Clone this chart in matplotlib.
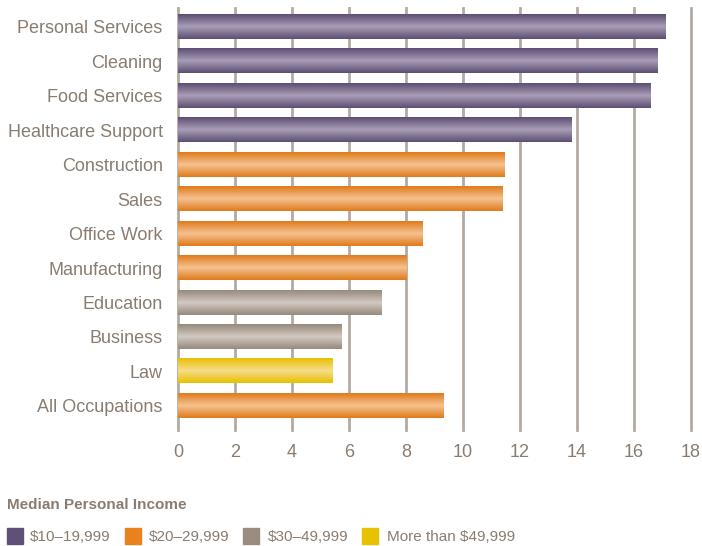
import numpy as np
import matplotlib.pyplot as plt
from matplotlib.colors import LinearSegmentedColormap
from matplotlib.patches import Rectangle

# data
occupations = ['Personal Services', 'Cleaning', 'Food Services', 'Healthcare Support',
               'Construction', 'Sales', 'Office Work', 'Manufacturing',
               'Education', 'Business', 'Law', 'All Occupations']
values = [17.09, 16.81, 16.57, 13.81, 11.44, 11.37, 8.58, 8.02, 7.15, 5.72, 5.41, 9.31]
groups = [0, 0, 0, 0, 1, 1, 1, 1, 2, 2, 3, 1]
legend_labels = ['$10\u201319,999', '$20\u201329,999', '$30\u201349,999', 'More than $49,999']
xticks = [0, 2, 4, 6, 8, 10, 12, 14, 16, 18]

# colours: (edge/dark, middle/light, legend)
shades = [('#5d4f72', '#a99db8', '#5f5078'),
          ('#e07b1c', '#f5c290', '#e8821e'),
          ('#978a7e', '#d2c9c1', '#9b8c80'),
          ('#e9c000', '#f5dc8c', '#e8c200')]
text_col = '#8a7c70'
grid_col = '#b3aaa2'

plt.rcParams['font.family'] = ['Liberation Sans', 'DejaVu Sans']

fig = plt.figure(figsize=(7.02, 5.46), dpi=100)
ax = fig.add_axes([178 / 702, 1 - 430 / 546, (691 - 178) / 702, (430 - 8) / 546])

h = 0.7
for i, (v, g) in enumerate(zip(values, groups)):
    dark, light, _ = shades[g]
    cmap = LinearSegmentedColormap.from_list('c%d' % i, [dark, light, dark])
    grad = np.linspace(0, 1, 64).reshape(-1, 1)
    ax.imshow(grad, cmap=cmap, aspect='auto', extent=[0, v, i + h / 2, i - h / 2],
              interpolation='bilinear', zorder=3)

ax.set_xlim(0, 18)
ax.set_ylim(len(occupations) - 0.3, -0.55)
ax.set_yticks(range(len(occupations)))
ax.set_yticklabels(occupations)
ax.set_xticks(xticks)
ax.tick_params(length=0, colors=text_col, labelsize=13)
ax.tick_params(axis='y', pad=11)
ax.tick_params(axis='x', pad=10)
for s in ax.spines.values():
    s.set_visible(False)
ax.grid(axis='x', color=grid_col, linewidth=2, zorder=1)
for gl in ax.xaxis.get_gridlines():
    gl.set_clip_on(False)
ax.set_axisbelow(True)

# legend
fig.text(7 / 702, 1 - 505 / 546, 'Median Personal Income', color=text_col,
         fontsize=11, fontweight='bold', va='center')
sq_x = [7, 125, 243, 362]
txt_x = [30, 149, 268, 387]
for x0, tx, lab, sh in zip(sq_x, txt_x, legend_labels, shades):
    fig.patches.append(Rectangle((x0 / 702, 1 - 544 / 546), 16 / 702, 16 / 546,
                                 transform=fig.transFigure, color=sh[2]))
    fig.text(tx / 702, 1 - 537 / 546, lab, color=text_col, fontsize=11, va='center')

fig.savefig('out.png', dpi=100)
